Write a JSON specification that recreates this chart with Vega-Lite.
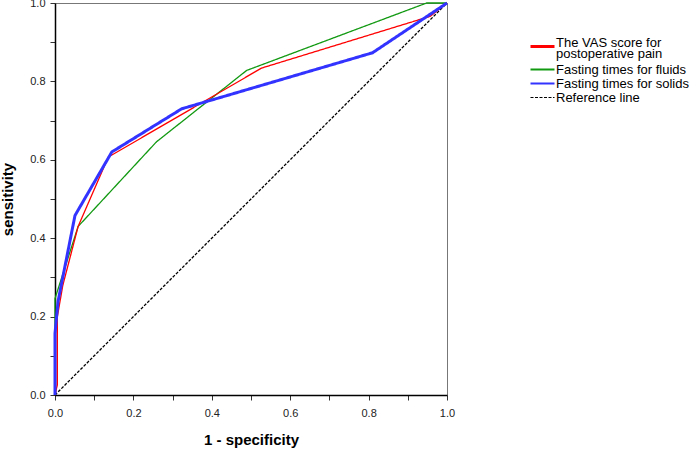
{
  "$schema": "https://vega.github.io/schema/vega-lite/v6.json",
  "autosize": {"type": "none"},
  "padding": {"left": 55, "top": 3, "right": 242, "bottom": 56},
  "width": 392,
  "height": 392,
  "background": "white",
  "config": {
    "view": {"stroke": "#777", "strokeWidth": 1},
    "font": "Liberation Sans",
    "axis": {
      "grid": false,
      "domainColor": "#000",
      "domainWidth": 1.5,
      "tickColor": "#333",
      "tickSize": 5,
      "labelFont": "Liberation Sans",
      "labelFontSize": 11,
      "labelColor": "#222",
      "titleFont": "Liberation Sans",
      "titleFontSize": 15,
      "titleFontWeight": "bold",
      "titleColor": "#000"
    },
    "legend": {
      "title": null,
      "padding": 0,
      "symbolType": "M-2,0H2",
      "symbolSize": 144,
      "symbolStrokeWidth": 2,
      "labelFont": "Liberation Sans",
      "labelFontSize": 13,
      "labelColor": "#000",
      "labelOffset": 7,
      "labelLimit": 300,
      "rowPadding": -1
    }
  },
  "data": {
    "values": [
      {"series": "Reference line", "i": 0, "x": 0, "y": 0},
      {"series": "Reference line", "i": 1, "x": 1, "y": 1},
      {"series": "Fasting times for fluids", "i": 0, "x": 0, "y": 0},
      {"series": "Fasting times for fluids", "i": 1, "x": 0, "y": 0.246},
      {"series": "Fasting times for fluids", "i": 2, "x": 0.059, "y": 0.43},
      {"series": "Fasting times for fluids", "i": 3, "x": 0.259, "y": 0.646},
      {"series": "Fasting times for fluids", "i": 4, "x": 0.489, "y": 0.828},
      {"series": "Fasting times for fluids", "i": 5, "x": 0.948, "y": 1.0},
      {"series": "Fasting times for fluids", "i": 6, "x": 1, "y": 1},
      {"series": "The VAS score for postoperative pain", "i": 0, "x": 0, "y": 0},
      {"series": "The VAS score for postoperative pain", "i": 1, "x": 0.006, "y": 0.026},
      {"series": "The VAS score for postoperative pain", "i": 2, "x": 0.006, "y": 0.2},
      {"series": "The VAS score for postoperative pain", "i": 3, "x": 0.02, "y": 0.28},
      {"series": "The VAS score for postoperative pain", "i": 4, "x": 0.059, "y": 0.43},
      {"series": "The VAS score for postoperative pain", "i": 5, "x": 0.136, "y": 0.607},
      {"series": "The VAS score for postoperative pain", "i": 6, "x": 0.527, "y": 0.834},
      {"series": "The VAS score for postoperative pain", "i": 7, "x": 0.957, "y": 0.966},
      {"series": "The VAS score for postoperative pain", "i": 8, "x": 1, "y": 1},
      {"series": "Fasting times for solids", "i": 0, "x": 0, "y": 0},
      {"series": "Fasting times for solids", "i": 1, "x": 0, "y": 0.157},
      {"series": "Fasting times for solids", "i": 2, "x": 0.004, "y": 0.2},
      {"series": "Fasting times for solids", "i": 3, "x": 0.008, "y": 0.24},
      {"series": "Fasting times for solids", "i": 4, "x": 0.051, "y": 0.458},
      {"series": "Fasting times for solids", "i": 5, "x": 0.145, "y": 0.62},
      {"series": "Fasting times for solids", "i": 6, "x": 0.323, "y": 0.73},
      {"series": "Fasting times for solids", "i": 7, "x": 0.81, "y": 0.873},
      {"series": "Fasting times for solids", "i": 8, "x": 1, "y": 1}
    ]
  },
  "mark": {"type": "line", "clip": false},
  "encoding": {
    "x": {
      "field": "x", "type": "quantitative",
      "scale": {"domain": [0, 1], "nice": false, "zero": false},
      "axis": {
        "title": "1 - specificity",
        "values": [0, 0.1, 0.2, 0.3, 0.4, 0.5, 0.6, 0.7, 0.8, 0.9, 1.0],
        "labelExpr": "round(datum.value*10) % 2 == 0 ? format(datum.value, '.1f') : ''",
        "labelPadding": 7,
        "titlePadding": 14,
        "labelFlush": false
      }
    },
    "y": {
      "field": "y", "type": "quantitative",
      "scale": {"domain": [0, 1], "nice": false, "zero": false},
      "axis": {
        "title": "sensitivity",
        "values": [0, 0.1, 0.2, 0.3, 0.4, 0.5, 0.6, 0.7, 0.8, 0.9, 1.0],
        "labelExpr": "round(datum.value*10) % 2 == 0 ? format(datum.value, '.1f') : ''",
        "labelPadding": 5,
        "titlePadding": 14,
        "labelFlush": false
      }
    },
    "order": {"field": "i", "type": "quantitative"},
    "color": {
      "field": "series", "type": "nominal",
      "scale": {
        "domain": ["The VAS score for postoperative pain", "Fasting times for fluids", "Fasting times for solids", "Reference line"],
        "range": ["#ff0000", "#119911", "#3333ff", "#000000"]
      },
      "legend": {
        "orient": "none",
        "legendX": 481,
        "legendY": 37,
        "labelExpr": "datum.label == 'The VAS score for postoperative pain' ? ['The VAS score for', 'postoperative pain'] : datum.label",
        "encode": {
          "labels": {"update": {"lineHeight": {"value": 11}, "dy": {"signal": "datum.value == 'The VAS score for postoperative pain' ? -4 : 0"}}},
          "symbols": {"update": {
            "shape": {"signal": "datum.value == 'The VAS score for postoperative pain' ? 'M-2,0H2M0,1.65' : 'M-2,0H2'"},
            "strokeWidth": {"signal": "datum.value == 'The VAS score for postoperative pain' ? 3 : datum.value == 'Reference line' ? 1 : 2"}
          }}
        }
      }
    },
    "strokeDash": {
      "field": "series", "type": "nominal",
      "scale": {
        "domain": ["The VAS score for postoperative pain", "Fasting times for fluids", "Fasting times for solids", "Reference line"],
        "range": [[1, 0], [1, 0], [1, 0], [3, 1.5]]
      },
      "legend": {
        "orient": "none",
        "legendX": 481,
        "legendY": 37,
        "labelExpr": "datum.label == 'The VAS score for postoperative pain' ? ['The VAS score for', 'postoperative pain'] : datum.label",
        "encode": {
          "labels": {"update": {"lineHeight": {"value": 11}, "dy": {"signal": "datum.value == 'The VAS score for postoperative pain' ? -4 : 0"}}},
          "symbols": {"update": {
            "shape": {"signal": "datum.value == 'The VAS score for postoperative pain' ? 'M-2,0H2M0,1.65' : 'M-2,0H2'"},
            "strokeWidth": {"signal": "datum.value == 'The VAS score for postoperative pain' ? 3 : datum.value == 'Reference line' ? 1 : 2"}
          }}
        }
      }
    },
    "strokeWidth": {
      "condition": {"test": "datum.series == 'Fasting times for solids'", "value": 3},
      "value": 1.3
    }
  }
}
